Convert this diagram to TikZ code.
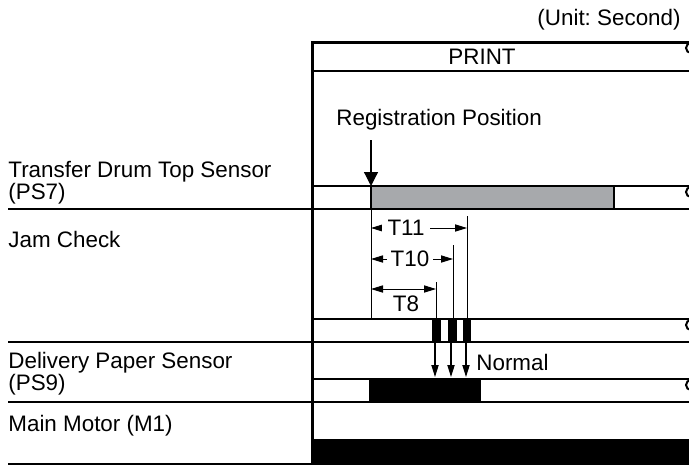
\documentclass[tikz,border=0pt]{standalone}
\usepackage{fontspec}
\setmainfont{Liberation Sans}
\usetikzlibrary{arrows.meta}

\definecolor{drumgray}{RGB}{167,169,172}

\begin{document}
\frenchspacing
\begin{tikzpicture}[x=0.5pt,y=-0.5pt]
\useasboundingbox (0,0) rectangle (689,466);
\clip (0,0) rectangle (689,466);
\begin{scope}[every node/.style={font=\fontsize{11.2}{13}\selectfont, inner sep=0pt},
  sig/.style={line width=0.9pt},
  frame/.style={line width=1.5pt},
  dim/.style={line width=0.5pt},
  tarr/.style={dim,{Triangle[length=6pt,width=3.6pt]}-{Triangle[length=6pt,width=3.6pt]}},
  darr/.style={line width=0.6pt,-{Triangle[length=6pt,width=3.6pt]}}]

% frame
\draw [frame] (312,464) -- (312,42) -- (689,42);
\draw [sig] (312,71) -- (689,71);
\node [anchor=east] (unit) at (681,20) {(Unit: Second)};
\node (print) at (482,57) {PRINT};

% signal rows
\foreach \t/\b in {186/209,319/342,379/402} {
  \draw [sig] (312,\t) -- (689,\t);
  \draw [sig] (8,\b) -- (689,\b);
}
\foreach \y in {42,186,319,379}
  \draw [line width=1pt] (691,\y+1) arc[start angle=270,end angle=90,radius=5];

\fill [drumgray] (371,186) rectangle (614,209);
\draw [sig] (371,186) rectangle (614,209);
\foreach \a/\b in {432/441,448/457,463/471}
  \fill (\a,319) rectangle (\b,342);
\fill (369,379) rectangle (481,402);
\fill (312,439) rectangle (689,464);
\draw [sig] (8,464) -- (689,464);

% row labels
\node [anchor=base west] (ps7a) at (8,177) {Transfer Drum Top Sensor};
\node [anchor=base west] (ps7b) at (8,199) {(PS7)};
\node [anchor=base west] (jam) at (8,247) {Jam Check};
\node [anchor=base west] (ps9a) at (8,368) {Delivery Paper Sensor};
\node [anchor=base west] (ps9b) at (8,390) {(PS9)};
\node [anchor=base west] (m1) at (8,431) {Main Motor (M1)};

% registration
\node [anchor=west] (reg) at (336,120) {Registration Position};
\coordinate (regtop) at (371,140);
\coordinate (regbot) at (371,186);
\draw [line width=0.6pt,-{Triangle[length=7pt,width=7pt]}] (regtop) -- (regbot);

% timing marks
\coordinate (m0a) at (371,209);  \coordinate (m0b) at (371,319);
\coordinate (m8a) at (436,282);  \coordinate (m8b) at (436,319);
\coordinate (m10a) at (453,245); \coordinate (m10b) at (453,319);
\coordinate (m11a) at (467,216); \coordinate (m11b) at (467,319);
\foreach \m in {m0,m8,m10,m11}
  \draw [dim] (\m a) -- (\m b);

\draw [tarr] (371,228) -- (467,228);
\node [fill=white, inner xsep=3pt] (t11) at (406,228) {T11};
\draw [tarr] (371,259) -- (453,259);
\node [fill=white, inner xsep=2pt] (t10) at (410,259) {T10};
\draw [tarr] (371,289) -- (436,289);
\node (t8) at (406,304) {T8};

% normal
\foreach \x in {435,451,466}
  \draw [darr] (\x,342) -- (\x,377);
\node [anchor=west] (normal) at (476,362) {Normal};

\end{scope}
\end{tikzpicture}
\end{document}
